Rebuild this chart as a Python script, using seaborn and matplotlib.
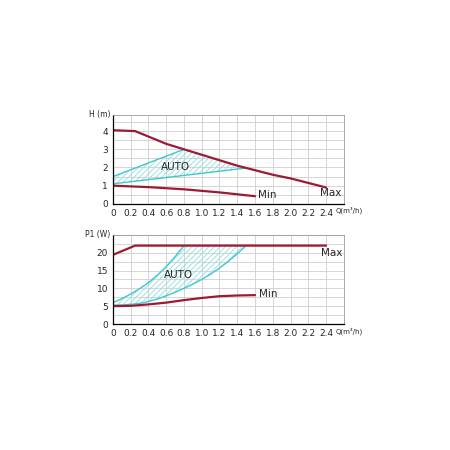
import numpy as np
import pandas as pd
import matplotlib
matplotlib.use("Agg")
import matplotlib.pyplot as plt
from matplotlib.ticker import MultipleLocator
import seaborn as sns

sns.set_style("white")
plt.rcParams["font.family"] = ["DejaVu Sans"]
plt.rcParams["hatch.color"] = "#8fdede"
plt.rcParams["hatch.linewidth"] = 0.6

# head curves H (m)
h_max_q = [0, 0.25, 0.4, 0.6, 0.8, 1.0, 1.2, 1.4, 1.6, 1.8, 2.0, 2.2, 2.4]
h_max = [4.05, 4.0, 3.7, 3.3, 3.0, 2.7, 2.4, 2.1, 1.85, 1.6, 1.4, 1.15, 0.9]
h_min_q = [0, 0.4, 0.8, 1.2, 1.6]
h_min = [1.0, 0.92, 0.8, 0.63, 0.42]
h_auto_hi_q = [0, 0.8]
h_auto_hi = [1.5, 3.0]
h_auto_lo_q = [0, 1.5]
h_auto_lo = [1.1, 1.97]

# power curves P1 (W)
p_max_q = [0, 0.25, 2.4]
p_max = [19.4, 22.0, 22.0]
p_min_q = [0, 0.2, 0.4, 0.6, 0.8, 1.0, 1.2, 1.4, 1.6]
p_min = [5.0, 5.1, 5.5, 6.0, 6.7, 7.3, 7.8, 8.0, 8.1]
p_auto_hi_q = [0, 0.1, 0.2, 0.3, 0.4, 0.5, 0.6, 0.7, 0.8]
p_auto_hi = [6.0, 7.1, 8.4, 9.9, 11.6, 13.7, 16.1, 18.9, 22.0]
p_auto_lo_q = [0, 0.1, 0.2, 0.3, 0.4, 0.5, 0.6, 0.7, 0.8, 0.9, 1.0, 1.1,
               1.2, 1.3, 1.4, 1.5]
p_auto_lo = [5.3, 5.35, 5.5, 5.8, 6.3, 7.0, 7.9, 8.9, 10.0, 11.2, 12.5, 14.0,
             15.7, 17.6, 19.7, 22.0]

RED = "#9e1a32"
CYAN = "#3cc8cf"


def auto_band(ax, hi_q, hi, lo_q, lo, max_q, max_v):
    # upper edge: cyan line, then the Max curve up to where the lower line meets it
    q = np.linspace(0, lo_q[-1], 200)
    top = np.where(q <= hi_q[-1], np.interp(q, hi_q, hi), np.interp(q, max_q, max_v))
    bot = np.interp(q, lo_q, lo)
    ax.fill_between(q, bot, top, facecolor="none", edgecolor="#8fdede",
                    hatch="//////", linewidth=0)


def style(ax, ymax, yticks, ygrid, ylabel):
    ax.set_xlim(0, 2.6)
    ax.set_ylim(0, ymax)
    ticks = np.round(np.arange(0, 2.61, 0.2), 1)
    ax.set_xticks(ticks)
    labels = ["0" if t == 0 else f"{t:.1f}" for t in ticks]
    labels[-1] = ""
    ax.set_xticklabels(labels)
    ax.xaxis.set_minor_locator(MultipleLocator(0.1))
    ax.set_yticks(yticks)
    ax.set_yticklabels([str(v) for v in yticks])
    ax.yaxis.set_minor_locator(MultipleLocator(ygrid))
    ax.grid(False, which="both")
    ax.grid(True, which="major", axis="x", color="#cfcfcf", lw=0.6)
    ax.grid(True, which="minor", axis="y", color="#cfcfcf", lw=0.6)
    ax.grid(True, which="major", axis="y", color="#cfcfcf", lw=0.6)
    ax.tick_params(axis="both", which="major", direction="inout", length=4,
                   width=0.8, labelsize=6.5, pad=1.5, color="black")
    ax.tick_params(axis="both", which="minor", direction="inout", length=3,
                   width=0.8, color="black")
    for s in ["top", "right"]:
        ax.spines[s].set_color("#9a9a9a")
        ax.spines[s].set_linewidth(0.6)
    for s in ["left", "bottom"]:
        ax.spines[s].set_color("black")
        ax.spines[s].set_linewidth(0.9)
    ax.set_xlabel("")
    ax.set_ylabel("")
    ax.text(-0.01, 1.0, ylabel, transform=ax.transAxes, ha="right", va="center",
            fontsize=5.5)
    ax.text(2.51, -0.035, "Q(m³/h)", transform=ax.get_xaxis_transform(),
            ha="left", va="top", fontsize=5.0)


fig = plt.figure(figsize=(4.5, 4.5), dpi=100)
ax1 = fig.add_axes([0.251, 0.547, 0.513, 0.198])
ax2 = fig.add_axes([0.251, 0.280, 0.513, 0.198])

# top chart
auto_band(ax1, h_auto_hi_q, h_auto_hi, h_auto_lo_q, h_auto_lo, h_max_q, h_max)
sns.lineplot(x=h_auto_hi_q, y=h_auto_hi, ax=ax1, color=CYAN, lw=1.0)
sns.lineplot(x=h_auto_lo_q, y=h_auto_lo, ax=ax1, color=CYAN, lw=1.0)
sns.lineplot(x=h_max_q, y=h_max, ax=ax1, color=RED, lw=1.6)
sns.lineplot(x=h_min_q, y=h_min, ax=ax1, color=RED, lw=1.6)
style(ax1, 4.9, [0, 1, 2, 3, 4], 0.5, "H (m)")
ax1.text(0.7, 2.05, "AUTO", fontsize=7.5, ha="center", va="center")
ax1.text(1.63, 0.48, "Min", fontsize=7.5, ha="left", va="center")
ax1.text(2.33, 0.58, "Max", fontsize=7.5, ha="left", va="center")

# bottom chart
auto_band(ax2, p_auto_hi_q, p_auto_hi, p_auto_lo_q, p_auto_lo, p_max_q, p_max)
sns.lineplot(x=p_auto_hi_q, y=p_auto_hi, ax=ax2, color=CYAN, lw=1.0)
sns.lineplot(x=p_auto_lo_q, y=p_auto_lo, ax=ax2, color=CYAN, lw=1.0)
sns.lineplot(x=p_max_q, y=p_max, ax=ax2, color=RED, lw=1.6)
sns.lineplot(x=p_min_q, y=p_min, ax=ax2, color=RED, lw=1.6)
style(ax2, 25, [0, 5, 10, 15, 20], 2.5, "P1 (W)")
ax2.text(0.74, 13.8, "AUTO", fontsize=7.5, ha="center", va="center")
ax2.text(1.64, 8.3, "Min", fontsize=7.5, ha="left", va="center")
ax2.text(2.34, 20.0, "Max", fontsize=7.5, ha="left", va="center")

fig.savefig("out.png", dpi=100, facecolor="white")
